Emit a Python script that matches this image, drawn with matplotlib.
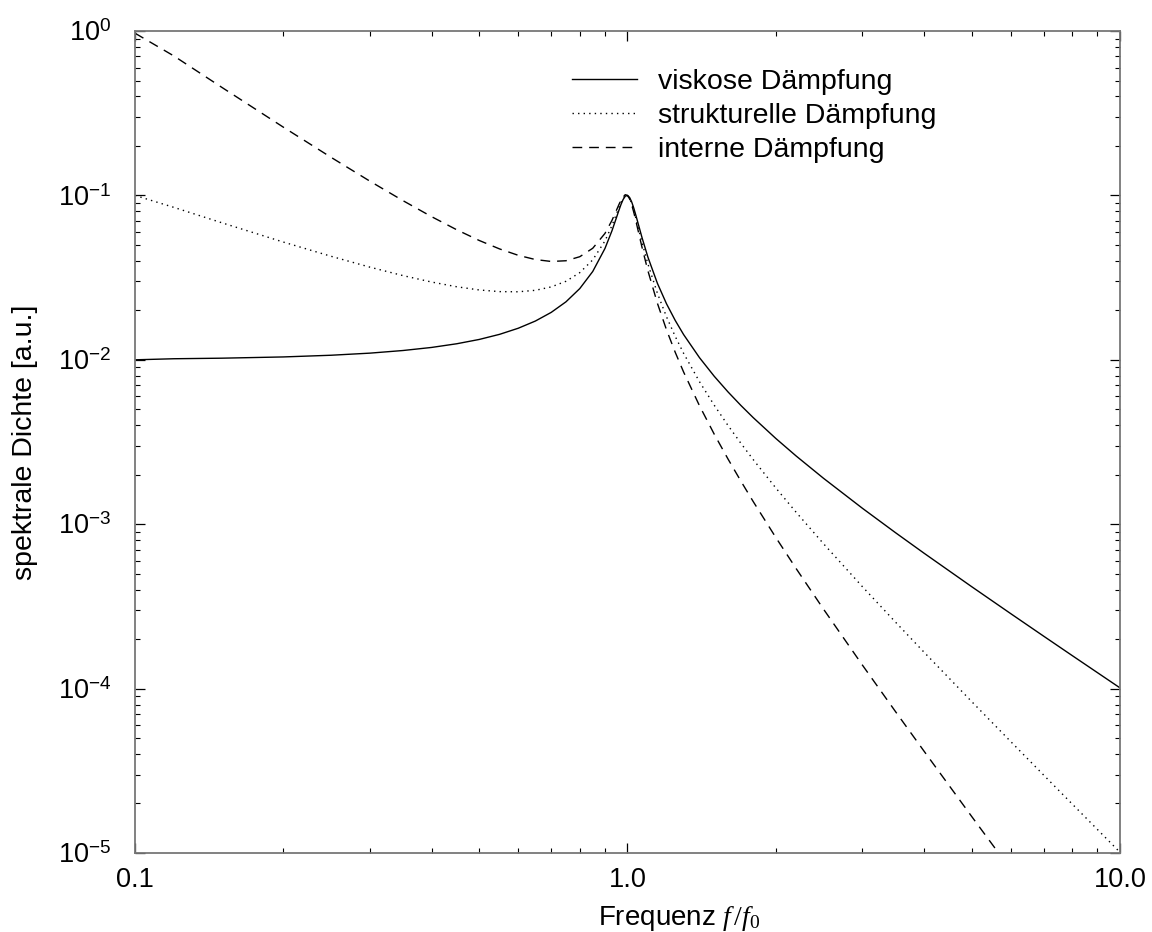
import math
import matplotlib
matplotlib.use('Agg')
import matplotlib.pyplot as plt
from matplotlib.ticker import FuncFormatter, LogLocator, NullFormatter

plt.rcParams['font.family'] = ['Liberation Sans', 'DejaVu Sans']
plt.rcParams['mathtext.fontset'] = 'custom'
plt.rcParams['mathtext.rm'] = 'Liberation Serif'
plt.rcParams['mathtext.it'] = 'Liberation Serif:italic'
plt.rcParams['mathtext.sf'] = 'Liberation Sans'

# values
freq = [0.1, 0.12, 0.15, 0.2, 0.25, 0.3, 0.35, 0.4, 0.45, 0.5, 0.55, 0.6, 0.65,
        0.7, 0.75, 0.8, 0.85, 0.9, 0.93, 0.95, 0.96, 0.97, 0.98, 0.99, 1.0,
        1.01, 1.02, 1.03, 1.04, 1.05, 1.07, 1.1, 1.15, 1.2, 1.25, 1.3, 1.4,
        1.5, 1.6, 1.7, 1.8, 2.0, 2.2, 2.5, 3.0, 3.5, 4.0, 5.0, 6.0, 7.0, 8.0, 10.0]

viskos = [0.0100, 0.01015, 0.01023, 0.01041, 0.01066, 0.01098, 0.01139, 0.01189,
          0.01252, 0.01330, 0.01429, 0.01556, 0.01721, 0.01943, 0.02253, 0.02712,
          0.03446, 0.04756, 0.06097, 0.07346, 0.08068, 0.08804, 0.09461, 0.09903,
          0.1000, 0.09711, 0.09115, 0.08357, 0.07565, 0.06815, 0.05552, 0.04218,
          0.02921, 0.02193, 0.01736, 0.01424, 0.01031, 0.007943, 0.006377, 0.00527,
          0.00445, 0.003326, 0.0026, 0.001903, 0.001249, 0.0008885, 0.0006664,
          0.0004166, 0.0002857, 0.0002083, 0.0001587, 0.000101]

strukturell = [0.100, 0.08454, 0.0682, 0.05205, 0.04265, 0.0366, 0.03253, 0.02973,
               0.02782, 0.0266, 0.02599, 0.02593, 0.02647, 0.02776, 0.03004, 0.0339,
               0.04054, 0.05284, 0.06556, 0.07733, 0.08404, 0.09076, 0.09654, 0.10003,
               0.1000, 0.09615, 0.08936, 0.08114, 0.07274, 0.0649, 0.05189, 0.03835,
               0.0254, 0.01828, 0.01388, 0.01095, 0.007364, 0.005295, 0.003986, 0.0031,
               0.002472, 0.001663, 0.001182, 0.0007612, 0.0004163, 0.0002539,
               0.0001666, 8.332e-5, 4.762e-5, 2.976e-5, 1.984e-5, 1.01e-5]

intern = [0.97, 0.7045, 0.4547, 0.2603, 0.1706, 0.122, 0.09296, 0.07431, 0.06182,
          0.0532, 0.04725, 0.04322, 0.04073, 0.03965, 0.04005, 0.04238, 0.0477,
          0.05872, 0.0705, 0.0814, 0.08754, 0.09357, 0.09851, 0.10104, 0.1000,
          0.0952, 0.08761, 0.07877, 0.06994, 0.06181, 0.04849, 0.03486, 0.02209,
          0.01523, 0.01111, 0.008426, 0.00526, 0.00353, 0.002491, 0.001824,
          0.001373, 0.0008315, 0.0005372, 0.0003045, 0.0001388, 7.253e-5,
          4.165e-5, 1.666e-5, 7.936e-6, 4.251e-6, 2.48e-6, 1.01e-6]

x_ticks = [0.1, 1.0, 10.0]
x_ticklabels = ['0.1', '1.0', '10.0']


def exp_label(v, pos):
    # "10" as plain text, exponent as superscript
    return '10$^{\\mathsf{%d}}$' % round(math.log10(v))


fig = plt.figure(figsize=(11.52, 9.32), dpi=100)
ax = fig.add_axes([0.1172, 0.0848, 0.855, 0.8819])

ax.plot(freq, viskos, color='black', lw=1.0, linestyle='-', label='viskose Dämpfung')
ax.plot(freq, strukturell, color='black', lw=1.0, linestyle=(0, (1, 3)),
        label='strukturelle Dämpfung')
ax.plot(freq, intern, color='black', lw=1.0, linestyle=(0, (7, 5)),
        label='interne Dämpfung')

ax.set_xscale('log')
ax.set_yscale('log')
ax.set_xlim(0.1, 10.0)
ax.set_ylim(1e-5, 1.0)

ax.set_xticks(x_ticks)
ax.set_xticklabels(x_ticklabels)
ax.xaxis.set_minor_locator(LogLocator(base=10, subs=range(2, 10)))
ax.xaxis.set_minor_formatter(NullFormatter())
ax.yaxis.set_major_locator(LogLocator(base=10, numticks=10))
ax.yaxis.set_minor_locator(LogLocator(base=10, subs=range(2, 10), numticks=10))
ax.yaxis.set_major_formatter(FuncFormatter(exp_label))
ax.yaxis.set_minor_formatter(NullFormatter())

ax.tick_params(which='both', direction='in', top=True, right=True, labelsize=19.5)
ax.tick_params(axis='x', which='major', pad=10)
ax.tick_params(axis='y', which='major', pad=17)
ax.tick_params(which='major', length=7.2, width=0.9)
ax.tick_params(which='minor', length=3.6, width=0.8)

for s in ax.spines.values():
    s.set_color('#777777')
    s.set_linewidth(1.3)

ax.set_xlabel('Frequenz $f\\,/f_0$', fontsize=20)
ax.xaxis.set_label_coords(0.553, -0.062)
ax.set_ylabel('spektrale Dichte [a.u.]', fontsize=20.5)
ax.yaxis.set_label_coords(-0.0985, 0.5)

ax.legend(loc='upper left', bbox_to_anchor=(0.444, 0.954), frameon=False,
          fontsize=20.5, handlelength=2.28, handletextpad=0.74, labelspacing=0.28,
          borderpad=0, borderaxespad=0)

fig.savefig('out.png', dpi=100)
